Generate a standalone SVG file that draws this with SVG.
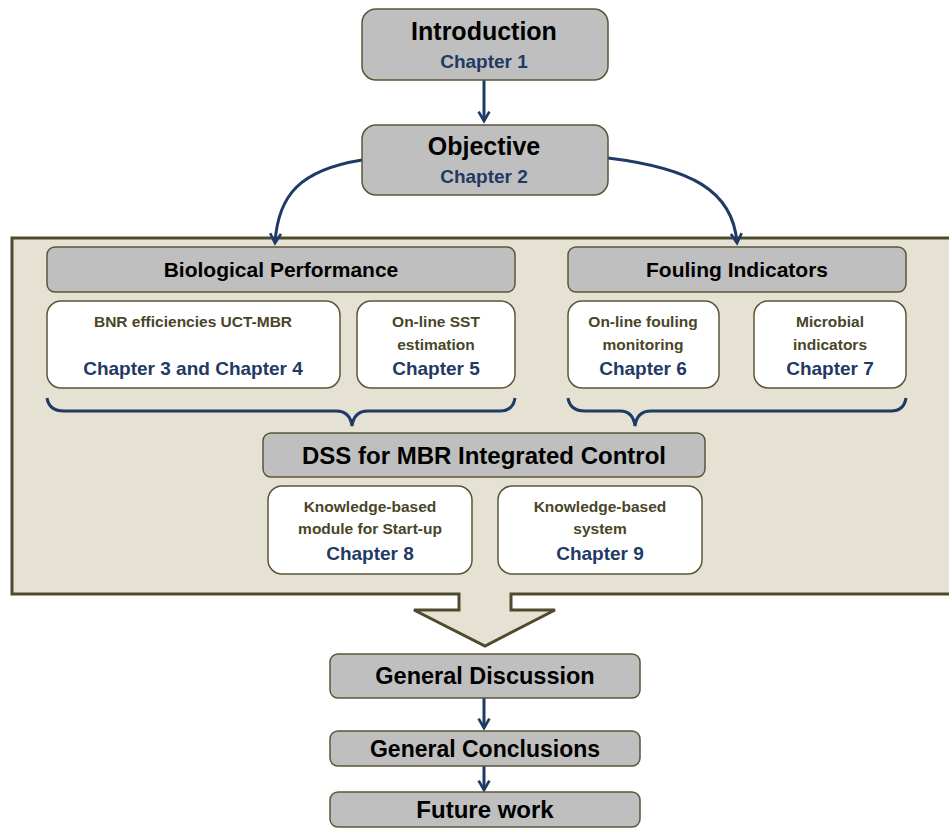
<svg xmlns="http://www.w3.org/2000/svg" width="949" height="830" viewBox="0 0 949 830">
<defs>
<style>
.g{fill:#bfbfbf;stroke:#5b5638;stroke-width:1.5}
.w{fill:#ffffff;stroke:#5b5638;stroke-width:1.5}
.h{font-family:"Liberation Sans",Arial,sans-serif;font-weight:bold;fill:#000;text-anchor:middle}
.s{font-family:"Liberation Sans",Arial,sans-serif;font-weight:bold;fill:#4a4528;text-anchor:middle;font-size:15.5px}
.c{font-family:"Liberation Sans",Arial,sans-serif;font-weight:bold;fill:#1f3a64;text-anchor:middle;font-size:19px}
.ln{fill:none;stroke:#1f3a64;stroke-width:3}
</style>
<marker id="ah" viewBox="0 0 10 10" refX="8" refY="5" markerWidth="4.5" markerHeight="4.5" orient="auto" markerUnits="strokeWidth">
<path d="M1,1 L8,5 L1,9" fill="none" stroke="#1f3a64" stroke-width="2"/>
</marker>
</defs>
<rect width="949" height="830" fill="#fff"/>
<g id="container">
<path d="M12,238 H955 V594 H511 V610 H555 L485,646 L414,610 H459 V594 H12 Z" fill="#e6e2d3" stroke="#4f4a2e" stroke-width="3"/>
</g>
<g id="connectors">
<line class="ln" x1="484" y1="80" x2="484" y2="121" marker-end="url(#ah)"/>
<path class="ln" d="M362,160 C300,170 278,195 275,243" marker-end="url(#ah)"/>
<path class="ln" d="M608,158 C690,168 733,190 737,243" marker-end="url(#ah)"/>
<line class="ln" x1="484" y1="698" x2="484" y2="728" marker-end="url(#ah)"/>
<line class="ln" x1="484" y1="766" x2="484" y2="790" marker-end="url(#ah)"/>
<path class="ln" d="M47,398 Q49,411 64,411 H336 Q350,411 352,426 Q354,411 368,411 H500 Q513,411 515,398"/>
<path class="ln" d="M568,398 Q570,411 585,411 H620 Q633,411 635,426 Q637,411 651,411 H891 Q904,411 906,398"/>
</g>
<g id="introduction">
<rect class="g" x="362" y="9" width="246" height="71" rx="14"/>
<text class="h" x="484" y="40" font-size="25">Introduction</text>
<text class="c" x="484" y="68">Chapter 1</text>
</g>
<g id="objective">
<rect class="g" x="362" y="125" width="246" height="70" rx="14"/>
<text class="h" x="484" y="155" font-size="25">Objective</text>
<text class="c" x="484" y="183">Chapter 2</text>
</g>
<g id="biological">
<rect class="g" x="47" y="247" width="468" height="45" rx="8"/>
<text class="h" x="281" y="277" font-size="21">Biological Performance</text>
</g>
<g id="bnr">
<rect class="w" x="47" y="301" width="293" height="87" rx="14"/>
<text class="s" x="193" y="327">BNR efficiencies UCT-MBR</text>
<text class="c" x="193" y="375">Chapter 3 and Chapter 4</text>
</g>
<g id="sst">
<rect class="w" x="357" y="301" width="158" height="87" rx="14"/>
<text class="s" x="436" y="327">On-line SST</text>
<text class="s" x="436" y="350">estimation</text>
<text class="c" x="436" y="375">Chapter 5</text>
</g>
<g id="fouling">
<rect class="g" x="568" y="247" width="338" height="45" rx="8"/>
<text class="h" x="737" y="277" font-size="21">Fouling Indicators</text>
</g>
<g id="online-fouling">
<rect class="w" x="568" y="301" width="151" height="87" rx="14"/>
<text class="s" x="643" y="327">On-line fouling</text>
<text class="s" x="643" y="350">monitoring</text>
<text class="c" x="643" y="375">Chapter 6</text>
</g>
<g id="microbial">
<rect class="w" x="754" y="301" width="152" height="87" rx="14"/>
<text class="s" x="830" y="327">Microbial</text>
<text class="s" x="830" y="350">indicators</text>
<text class="c" x="830" y="375">Chapter 7</text>
</g>
<g id="dss">
<rect class="g" x="263" y="433" width="442" height="44" rx="8"/>
<text class="h" x="484" y="464" font-size="24">DSS for MBR Integrated Control</text>
</g>
<g id="kb-module">
<rect class="w" x="268" y="486" width="204" height="88" rx="14"/>
<text class="s" x="370" y="512">Knowledge-based</text>
<text class="s" x="370" y="534">module for Start-up</text>
<text class="c" x="370" y="560">Chapter 8</text>
</g>
<g id="kb-system">
<rect class="w" x="498" y="486" width="204" height="88" rx="14"/>
<text class="s" x="600" y="512">Knowledge-based</text>
<text class="s" x="600" y="534">system</text>
<text class="c" x="600" y="560">Chapter 9</text>
</g>
<g id="discussion">
<rect class="g" x="330" y="654" width="310" height="44" rx="8"/>
<text class="h" x="485" y="684" font-size="23.5">General Discussion</text>
</g>
<g id="conclusions">
<rect class="g" x="330" y="731" width="310" height="35" rx="8"/>
<text class="h" x="485" y="757" font-size="23">General Conclusions</text>
</g>
<g id="future">
<rect class="g" x="330" y="792" width="310" height="35" rx="8"/>
<text class="h" x="485" y="818" font-size="24">Future work</text>
</g>
</svg>
